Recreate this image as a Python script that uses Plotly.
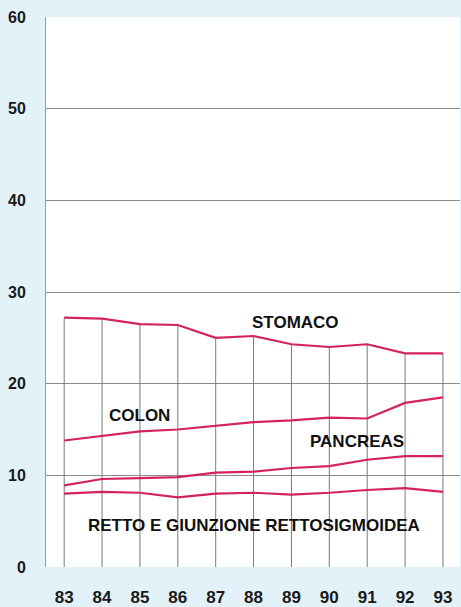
import plotly.graph_objects as go

years = [83, 84, 85, 86, 87, 88, 89, 90, 91, 92, 93]
stomaco = [27.2, 27.1, 26.5, 26.4, 25.0, 25.2, 24.3, 24.0, 24.3, 23.3, 23.3]
colon = [13.8, 14.3, 14.8, 15.0, 15.4, 15.8, 16.0, 16.3, 16.2, 17.9, 18.5]
pancreas = [8.9, 9.6, 9.7, 9.8, 10.3, 10.4, 10.8, 11.0, 11.7, 12.1, 12.1]
retto = [8.0, 8.2, 8.1, 7.6, 8.0, 8.1, 7.9, 8.1, 8.4, 8.6, 8.2]

labels = ["STOMACO", "COLON", "PANCREAS", "RETTO E GIUNZIONE RETTOSIGMOIDEA"]
label_x = [89.1, 85.0, 90.73, 88.0]
label_y = [26.7, 16.5, 13.7, 4.5]

y_ticks = [0, 10, 20, 30, 40, 50, 60]

line_color = "#d4235c"
grid_color = "#8a8a8a"

fig = go.Figure()

# vertical year lines from 0 up to the top series
vx, vy = [], []
for x, top in zip(years, stomaco):
    vx += [x, x, None]
    vy += [0, top, None]
fig.add_trace(go.Scatter(x=vx, y=vy, mode="lines",
                         line=dict(color="#7a7a7a", width=1),
                         hoverinfo="skip", showlegend=False))

for name, vals in zip(labels, [stomaco, colon, pancreas, retto]):
    fig.add_trace(go.Scatter(x=years, y=vals, mode="lines", name=name,
                             line=dict(color=line_color, width=2.2),
                             showlegend=False))

for t, x, y in zip(labels, label_x, label_y):
    fig.add_annotation(x=x, y=y, text=t, showarrow=False,
                       font=dict(family="Liberation Sans", size=17, color="#111111",
                                 weight="bold"))

fig.update_layout(
    width=461, height=607,
    margin=dict(l=46, r=1, t=17, b=40),
    paper_bgcolor="#e3f1f9",
    plot_bgcolor="#ffffff",
    showlegend=False,
)
fig.update_xaxes(range=[82.52, 93.45], tickmode="array", tickvals=years,
                 ticktext=[str(y) for y in years], showgrid=False, zeroline=False,
                 showline=False, ticks="", ticklabelstandoff=18,
                 tickfont=dict(family="Liberation Sans", size=17, color="#1a1a1a",
                               weight="bold"))
fig.update_yaxes(range=[0, 60], tickmode="array", tickvals=y_ticks,
                 showgrid=True, gridcolor=grid_color, gridwidth=1, zeroline=False,
                 showline=True, linecolor="#9a9a9a", linewidth=1, ticks="",
                 ticklabelstandoff=16,
                 tickfont=dict(family="Liberation Sans", size=16, color="#1a1a1a",
                               weight="bold"))

fig.write_html("out.html", config={"displayModeBar": False},
               post_script="document.body.style.margin='0';")
